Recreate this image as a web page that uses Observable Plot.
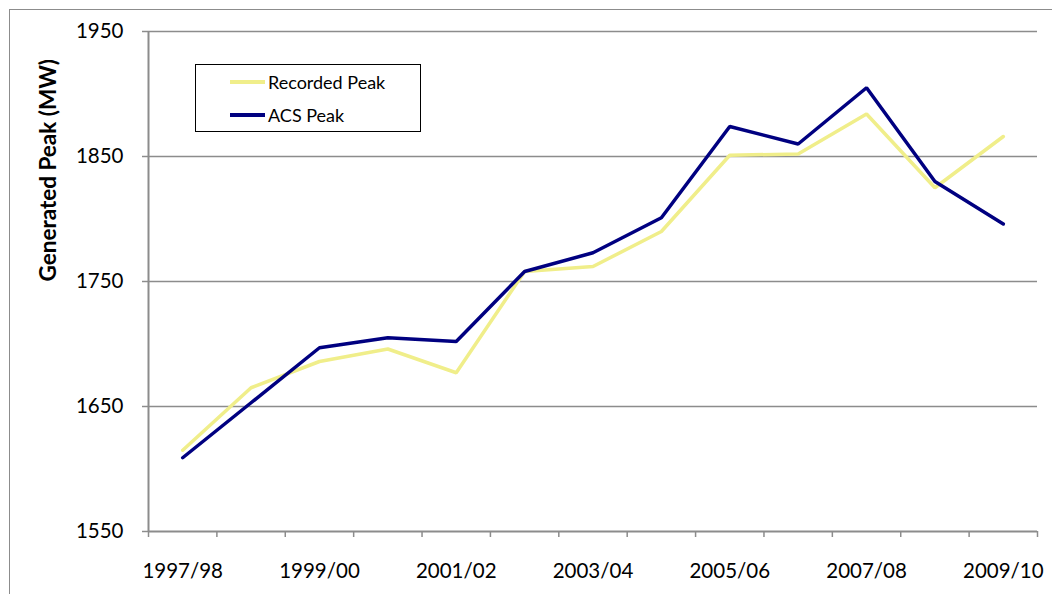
<!DOCTYPE html>
<html>
<head>
<meta charset="utf-8">
<script src="https://cdn.jsdelivr.net/npm/d3@7"></script>
<script src="https://cdn.jsdelivr.net/npm/@observablehq/plot@0.6"></script>
<style>
  html, body { margin: 0; padding: 0; background: #fff; }
  #wrap { position: relative; width: 1052px; height: 594px; overflow: hidden; }
  #border { position: absolute; left: 9px; top: 9px; width: 1100px; height: 700px; border-left: 1.5px solid #8c8c8c; border-top: 1.5px solid #8c8c8c; }
  #legend { position: absolute; left: 195px; top: 64px; width: 224px; height: 66px; border: 1.3px solid #000; background: #fff; font-family: Lato, sans-serif; font-size: 18px; color: #000; }
  .item { position: absolute; left: 34px; display: flex; align-items: center; height: 20px; }
  .sw { width: 35px; height: 3.5px; margin-right: 3px; }
</style>
</head>
<body>
<div id="wrap">
  <div id="border"></div>
  <div id="chart"></div>
  <div id="legend"></div>
</div>
<script>
const categories = ["1997/98","1998/99","1999/00","2000/01","2001/02","2002/03","2003/04","2004/05","2005/06","2006/07","2007/08","2008/09","2009/10"];
const recordedPeak = [1615,1665,1686,1696,1677,1758,1762,1790,1851,1852,1884,1825,1866];
const acsPeak = [1609,1653,1697,1705,1702,1758,1773,1801,1874,1860,1905,1830,1796];
const yTicks = [1550,1650,1750,1850,1950];
const seriesNames = ["Recorded Peak","ACS Peak"];
const seriesColors = ["#f0ee8a","#000080"];

const rows = [];
categories.forEach((c, i) => {
  rows.push({pos: i + 0.5, cat: c, series: seriesNames[0], value: recordedPeak[i]});
  rows.push({pos: i + 0.5, cat: c, series: seriesNames[1], value: acsPeak[i]});
});
const boundaries = d3.range(categories.length + 1);
const labelPos = categories.map((c, i) => i + 0.5).filter((_, i) => i % 2 === 0);

const chart = Plot.plot({
  width: 1052,
  height: 594,
  marginLeft: 148,
  marginRight: 15,
  marginTop: 31,
  marginBottom: 63,
  style: {fontFamily: "Lato, sans-serif", fontSize: "20px", color: "#000", background: "transparent"},
  x: {domain: [0, categories.length], axis: null},
  y: {domain: [1550, 1950], axis: null},
  color: {domain: seriesNames, range: seriesColors},
  marks: [
    Plot.gridY(yTicks.slice(1), {stroke: "#8c8c8c", strokeOpacity: 1, strokeWidth: 1.3}),
    Plot.axisY({ticks: yTicks, tickSize: 6, tickPadding: 19, tickFormat: d => String(d), stroke: "#8c8c8c", strokeWidth: 1.5, label: null, fontSize: 20.5}),
    Plot.axisX({ticks: boundaries, tickSize: 6, tickFormat: () => "", stroke: "#8c8c8c", strokeWidth: 1.5, label: null}),
    Plot.axisX({ticks: labelPos, tickSize: 0, tickPadding: 32, tickFormat: d => categories[Math.floor(d)], label: null, fontSize: 20.5}),
    Plot.ruleX([0], {stroke: "#8c8c8c", strokeWidth: 2}),
    Plot.ruleY([1550], {stroke: "#8c8c8c", strokeWidth: 2}),
    Plot.text(["Generated Peak (MW)"], {frameAnchor: "left", dx: -100, rotate: -90, fontWeight: "bold", fontSize: 22.5}),
    Plot.line(rows, {x: "pos", y: "value", z: "series", stroke: "series", strokeWidth: 3.5, strokeLinejoin: "miter", curve: "linear"})
  ]
});
document.getElementById("chart").appendChild(chart);

const legend = document.getElementById("legend");
seriesNames.forEach((name, i) => {
  const item = document.createElement("div");
  item.className = "item";
  item.style.top = (7 + i * 33) + "px";
  const sw = document.createElement("div");
  sw.className = "sw";
  sw.style.background = seriesColors[i];
  const label = document.createElement("span");
  label.textContent = name;
  item.appendChild(sw);
  item.appendChild(label);
  legend.appendChild(item);
});
</script>
</body>
</html>
